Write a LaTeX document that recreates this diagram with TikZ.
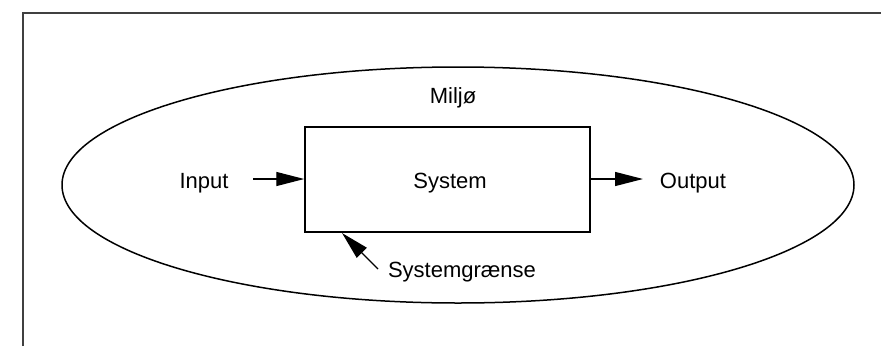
\documentclass[tikz,border=0pt]{standalone}
\usepackage{fontspec}
\setmainfont{Liberation Sans}
\usepackage{tikz}
\usetikzlibrary{positioning,arrows.meta}

\tikzset{
  label text/.style={font=\fontsize{22}{26}\selectfont, inner sep=0pt},
  boundary/.style={line width=1.5pt, black},
  flow/.style={line width=1.3pt, -{Triangle[length=28pt,width=14pt]}},
}

\begin{document}
\begin{tikzpicture}[x=1pt,y=-1pt]
\useasboundingbox (0,0) rectangle (881,346);

%frame
\draw[line width=1.5pt, black!75] (23,346) -- (23,13) -- (881,13);

%environment
\draw[boundary] (458,185) ellipse [x radius=396, y radius=118];
\node[label text] (env) at (453,98) {Miljø};

%system
\node[draw, boundary, minimum width=285pt, minimum height=105pt, inner sep=0pt] (sys) at (447.5,179.5) {};
\node[label text] (systxt) at (450,183) {System};

%flows
\node[label text] (in) at (204,183) {Input};
\node[label text] (out) at (693,183) {Output};
\coordinate (instart) at (253,179);
\coordinate (outend) at (643,179);
\draw[flow] (instart) -- (instart -| sys.west);
\draw[flow] (outend -| sys.east) -- (outend);

%boundary label
\node[label text] (grense) at (462,272) {Systemgrænse};
\coordinate (grensetail) at (378,269);
\coordinate (grensetip) at (342,233);
\draw[flow] (grensetail) -- (grensetip);
\end{tikzpicture}
\end{document}
